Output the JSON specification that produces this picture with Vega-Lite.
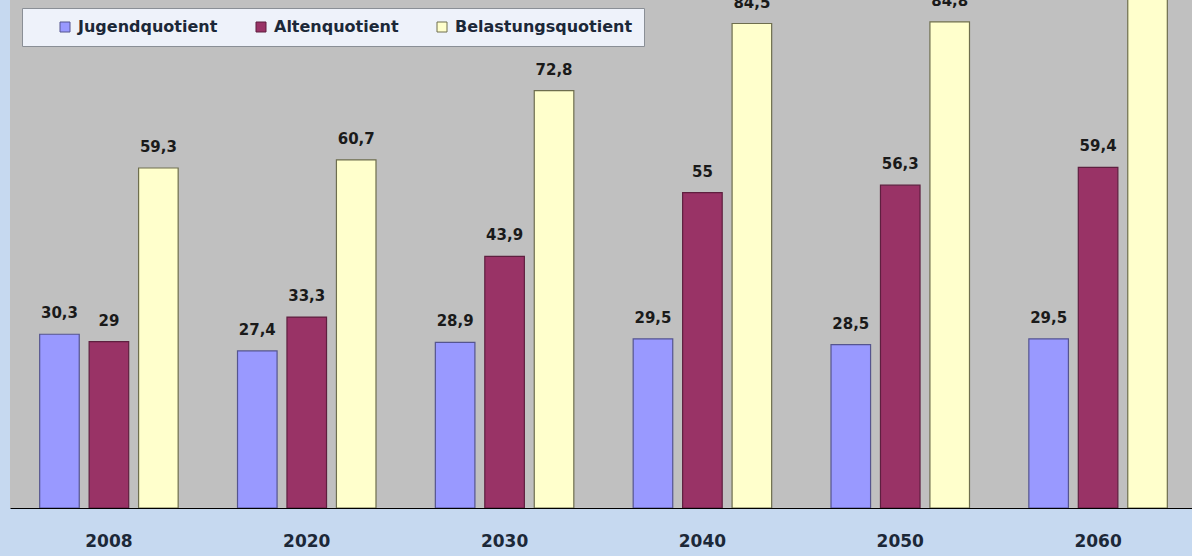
{
  "$schema": "https://vega.github.io/schema/vega-lite/v6.json",
  "width": 1187,
  "height": 508,
  "autosize": {"type": "none"},
  "padding": {"left": 10, "top": 0, "right": 0, "bottom": 48},
  "background": "#C6D9F0",
  "config": {
    "view": {"fill": "#C0C0C0", "stroke": null},
    "font": "DejaVu Sans",
    "locale": {"number": {"decimal": ",", "thousands": ".", "grouping": [3], "currency": ["", " €"]}}
  },
  "data": {
    "values": [
      {"year": "2008", "series": "Jugendquotient", "value": 30.3},
      {"year": "2008", "series": "Altenquotient", "value": 29},
      {"year": "2008", "series": "Belastungsquotient", "value": 59.3},
      {"year": "2020", "series": "Jugendquotient", "value": 27.4},
      {"year": "2020", "series": "Altenquotient", "value": 33.3},
      {"year": "2020", "series": "Belastungsquotient", "value": 60.7},
      {"year": "2030", "series": "Jugendquotient", "value": 28.9},
      {"year": "2030", "series": "Altenquotient", "value": 43.9},
      {"year": "2030", "series": "Belastungsquotient", "value": 72.8},
      {"year": "2040", "series": "Jugendquotient", "value": 29.5},
      {"year": "2040", "series": "Altenquotient", "value": 55},
      {"year": "2040", "series": "Belastungsquotient", "value": 84.5},
      {"year": "2050", "series": "Jugendquotient", "value": 28.5},
      {"year": "2050", "series": "Altenquotient", "value": 56.3},
      {"year": "2050", "series": "Belastungsquotient", "value": 84.8},
      {"year": "2060", "series": "Jugendquotient", "value": 29.5},
      {"year": "2060", "series": "Altenquotient", "value": 59.4},
      {"year": "2060", "series": "Belastungsquotient", "value": 88.9}
    ]
  },
  "encoding": {
    "x": {
      "field": "year", "type": "nominal", "sort": null,
      "scale": {"paddingInner": 0.25, "paddingOuter": 0.125},
      "axis": {
        "title": null, "labelAngle": 0, "ticks": false, "grid": false,
        "domainColor": "#000000", "domainWidth": 1.2,
        "labelFont": "DejaVu Sans", "labelFontWeight": "bold", "labelFontSize": 17,
        "labelColor": "#1C2838", "labelPadding": 25
      }
    },
    "xOffset": {
      "field": "series", "type": "nominal",
      "sort": ["Jugendquotient", "Altenquotient", "Belastungsquotient"],
      "scale": {"paddingInner": 0.2, "paddingOuter": 0.1}
    },
    "y": {
      "field": "value", "type": "quantitative",
      "scale": {"domain": [0, 88.6], "nice": false, "zero": true},
      "axis": null
    }
  },
  "layer": [
    {
      "mark": {"type": "bar", "clip": true, "strokeWidth": 1.2},
      "encoding": {
        "color": {
          "field": "series", "type": "nominal",
          "sort": ["Jugendquotient", "Altenquotient", "Belastungsquotient"],
          "scale": {
            "domain": ["Jugendquotient", "Altenquotient", "Belastungsquotient"],
            "range": ["#9999FF", "#993366", "#FFFFCC"]
          },
          "legend": {
            "title": null, "orient": "none", "direction": "horizontal",
            "legendX": 12, "legendY": 8,
            "fillColor": "#EEF2FA", "strokeColor": "#8A8F96",
            "padding": 11, "symbolOffset": 24, "columnPadding": 11,
            "symbolType": "square", "symbolSize": 100, "symbolStrokeWidth": 1,
            "labelFont": "DejaVu Sans", "labelFontWeight": "bold", "labelFontSize": 16,
            "labelColor": "#1C2838", "labelOffset": 5, "labelLimit": 300
          }
        },
        "stroke": {
          "field": "series", "type": "nominal",
          "scale": {
            "domain": ["Jugendquotient", "Altenquotient", "Belastungsquotient"],
            "range": ["#55558F", "#5E1F3F", "#6E6E4E"]
          },
          "legend": null
        }
      }
    },
    {
      "mark": {
        "type": "text", "clip": true, "baseline": "alphabetic", "dy": -16,
        "font": "DejaVu Sans", "fontWeight": "bold", "fontSize": 15, "color": "#1A1A1A"
      },
      "encoding": {
        "text": {"field": "value", "type": "quantitative", "format": ".1~f"}
      }
    }
  ]
}
